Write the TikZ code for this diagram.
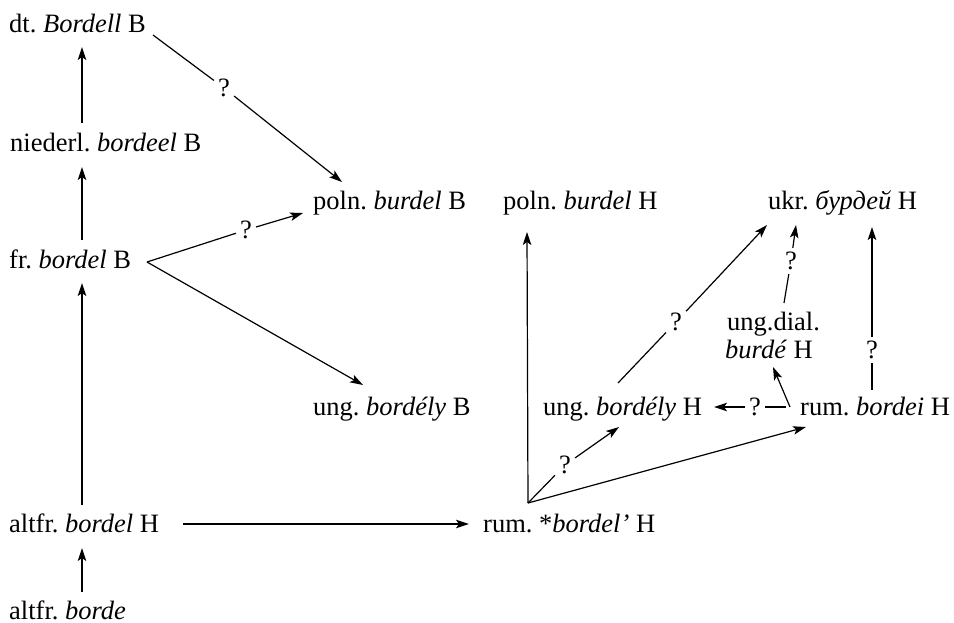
\documentclass[tikz,border=0pt]{standalone}
\usepackage{fontspec}
\setmainfont{Liberation Serif}
\usetikzlibrary{arrows.meta}
\begin{document}
\frenchspacing
\begin{tikzpicture}[x=1pt,y=-1pt,
  every node/.style={font=\fontsize{26.5}{28}\selectfont\frenchspacing, inner sep=0pt},
  word/.style={anchor=base west},
  qm/.style={inner sep=4pt},
  conn/.style={line width=1.2pt},
  arr/.style={conn, -{Stealth[length=13pt,width=8.5pt,inset=3pt]}}]
\useasboundingbox (0,0) rectangle (954,623);
% nodes
\node[word] (dt) at (9,33) {dt. \textit{Bordell} B};
\node[word] (nl) at (10,152) {niederl. \textit{bordeel} B};
\node[word] (fr) at (9,268) {fr. \textit{bordel} B};
\node[word] (afh) at (9,532) {altfr. \textit{bordel} H};
\node[word] (afb) at (9,619) {altfr. \textit{borde}};
\node[word] (plb) at (313,210) {poln. \textit{burdel} B};
\node[word] (ugb) at (313,415) {ung. \textit{bordély} B};
\node[word] (plh) at (503,210) {poln. \textit{burdel} H};
\node[word] (ukr) at (768,210) {ukr. \textit{бурдей} H};
\node[word] (dial) at (727,330) {ung.dial.};
\node[word] (dialb) at (725,358) {\textit{burdé} H};
\node[word] (ugh) at (543,415) {ung. \textit{bordély} H};
\node[word] (rbh) at (800,415) {rum. \textit{bordei} H};
\node[word] (rsh) at (483,532) {rum. *\textit{bordel’} H};
% question marks
\node[qm] (q1) at (224,88) {?};
\node[qm] (q2) at (246,230) {?};
\node[qm] (q3) at (565,465) {?};
\node[qm] (q4) at (755,407) {?};
\node[qm] (q5) at (676,322) {?};
\node[qm] (q6) at (791,261) {?};
\node[qm] (q7) at (872,350) {?};
% helper coordinates
\coordinate (rsc) at ([xshift=45pt,yshift=29pt]rsh.base west);
\coordinate (rbc) at ([xshift=-10pt,yshift=8pt]rbh.base west);
\coordinate (frc) at ([xshift=138pt,yshift=6pt]fr.base west);
% vertical chain
\draw[arr] ([xshift=72pt,yshift=29pt]nl.base west) -- ([xshift=73pt,yshift=-14pt]dt.base west);
\draw[arr] ([xshift=73pt,yshift=28pt]fr.base west) -- ([xshift=72pt,yshift=-15pt]nl.base west);
\draw[arr] ([xshift=73pt,yshift=27pt]afh.base west) -- ([xshift=73pt,yshift=-15pt]fr.base west);
\draw[arr] ([xshift=73pt,yshift=27pt]afb.base west) -- ([xshift=73pt,yshift=-16pt]afh.base west);
% altfr -> rum
\draw[arr] ([xshift=174pt,yshift=8pt]afh.base west) -- ([xshift=-14pt,yshift=8pt]rsh.base west);
% B branch
\draw[arr] ([xshift=144pt,yshift=-2pt]dt.base west) -- (q1) -- ([xshift=29pt,yshift=28pt]plb.base west);
\draw[arr] (frc) -- (q2) -- ([xshift=-10pt,yshift=-3pt]plb.base west);
\draw[arr] (frc) -- ([xshift=50pt,yshift=30pt]ugb.base west);
% H branch
\draw[arr] (rsc) -- ([xshift=24pt,yshift=-22pt]plh.base west);
\draw[arr] (rsc) -- (q3) -- ([xshift=76pt,yshift=-12pt]ugh.base west);
\draw[arr] (rsc) -- ([xshift=6pt,yshift=-12pt]rbh.base west);
\draw[arr] ([xshift=-4pt]rbc) -- (q4) -- ([xshift=171pt,yshift=8pt]ugh.base west);
\draw[arr] (rbc) -- ([xshift=48pt,yshift=-9pt]dialb.base west);
\draw[arr] ([xshift=75pt,yshift=32pt]ugh.base west) -- (q5) -- ([xshift=-1pt,yshift=-15pt]ukr.base west);
\draw[arr] ([xshift=57pt,yshift=27pt]dial.base west) -- (q6) -- ([xshift=28pt,yshift=-15pt]ukr.base west);
\draw[arr] ([xshift=72pt,yshift=25pt]rbh.base west) -- (q7) -- ([xshift=104pt,yshift=-17pt]ukr.base west);
\end{tikzpicture}
\end{document}
